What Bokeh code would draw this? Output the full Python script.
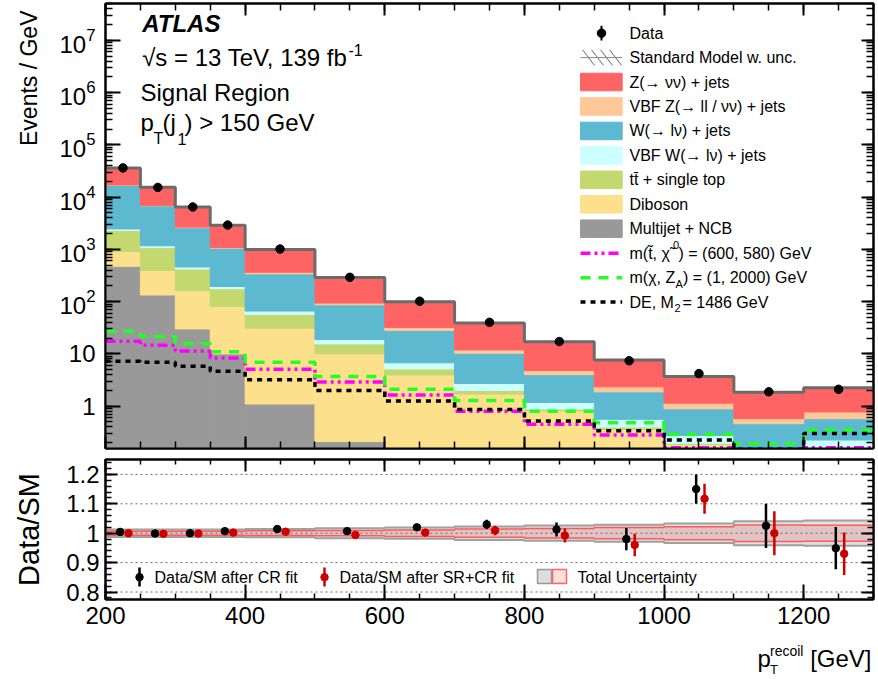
import math
import numpy as np
from bokeh.plotting import figure
from bokeh.models import (Range1d, LinearAxis, LogAxis, Label, Title, SingleIntervalTicker,
                          FixedTicker, LogTicker, LogTickFormatter, CustomJSTickFormatter)
from bokeh.layouts import column
from bokeh.embed import file_html
from bokeh.resources import INLINE

# ---------------- data ----------------
bin_edges = [200, 250, 300, 350, 400, 500, 600, 700, 800, 900, 1000, 1100, 1200, 1300]

multijet = [475, 134, 30, 10, 1.1, 0.21, 0.05, 0.02, 0.01, 0.01, 0.005, 0.005, 0.005]
diboson = [435, 261, 132, 71, 29.9, 9.8, 3.9, 1.68, 0.8, 0.35, 0.18, 0.05, 0.06]
ttbar = [1390, 685, 258, 96, 26, 5.5, 1.2, 0.29, 0.07, 0.04, 0.01, 0.005, 0.01]
vbf_w = [160, 90, 40, 18, 9, 3.3, 1.6, 0.73, 0.3, 0.16, 0.08, 0.05, 0.15]
w_jets = [14240, 5630, 2140, 855, 274, 68, 21.3, 7.6, 2.83, 1.32, 0.615, 0.35, 0.35]
vbf_z = [400, 150, 70, 30, 25, 7, 4, 1.6, 0.8, 0.46, 0.25, 0.12, 0.2]
z_jets = [18900, 8450, 3830, 1820, 635, 196, 68, 27, 12.2, 5.26, 2.56, 1.26, 1.47]

data = [36200, 15350, 6480, 2920, 1015, 292, 102, 40.2, 17.2, 7.4, 4.2, 1.88, 2.1]

sig_stop = [17.5, 14.7, 11.3, 8.3, 5.1, 2.9, 1.63, 0.8, 0.45, 0.28, 0.16, 0.12, 0.16]
sig_zprime = [27, 21.6, 15.8, 11, 6.9, 3.7, 2.1, 1.28, 0.80, 0.48, 0.29, 0.19, 0.35]
sig_de = [7.2, 6.9, 5.8, 4.65, 3.2, 2.0, 1.26, 0.86, 0.52, 0.34, 0.225, 0.15, 0.30]

ratio_cr = [1.0045, 0.999, 1.0, 1.007, 1.014, 1.007, 1.02, 1.03, 1.0125, 0.98, 1.15, 1.025, 0.949]
ratio_cr_err = [0.001, 0.002, 0.003, 0.003, 0.003, 0.006, 0.01, 0.016, 0.024, 0.038, 0.05, 0.075, 0.072]
ratio_srcr = [1.0, 0.998, 0.999, 1.002, 1.005, 0.994, 1.002, 1.009, 0.992, 0.96, 1.117, 1.0, 0.93]
ratio_srcr_err = [0.001, 0.002, 0.003, 0.003, 0.003, 0.006, 0.01, 0.016, 0.024, 0.038, 0.051, 0.075, 0.072]
unc_cr = [0.013, 0.013, 0.013, 0.013, 0.014, 0.017, 0.019, 0.023, 0.026, 0.029, 0.033, 0.041, 0.043]
unc_srcr = [0.007, 0.007, 0.007, 0.007, 0.008, 0.009, 0.011, 0.014, 0.016, 0.019, 0.022, 0.028, 0.027]

process_names = ["Multijet + NCB", "Diboson", "tt\u0304 + single top", "VBF W(\u2192 l\u03bd) + jets",
                 "W(\u2192 l\u03bd) + jets", "VBF Z(\u2192 ll / \u03bd\u03bd) + jets", "Z(\u2192 \u03bd\u03bd) + jets"]
process_colors = ["#999999", "#fde08c", "#c3d96f", "#ccffff", "#5cb9d0", "#ffc896", "#ff6464"]
process_values = [multijet, diboson, ttbar, vbf_w, w_jets, vbf_z, z_jets]

FONT = "Liberation Sans"
W = 878
BL, BR = 105, 5
H1, H2, H3 = 450, 193, 36

# ---------- helpers mapping reference pixel positions to data coords ----------
REF_L, REF_R = 105.0, 873.0
def ux(px):
    return 200 + (px - REF_L) * 1100.0 / (REF_R - REF_L)
def uy(py):
    return 10 ** ((414.7 - py) / 53.43)
def ry(py):
    return 1.0 + (542.7 - py) / 294.0

lefts = np.array(bin_edges[:-1], dtype=float)
rights = np.array(bin_edges[1:], dtype=float)
centers = 0.5 * (lefts + rights)

def step_xy(vals):
    xs, ys = [], []
    for i, v in enumerate(vals):
        xs += [bin_edges[i], bin_edges[i + 1]]
        ys += [v, v]
    return xs, ys

def style_axis(ax, tick_in, minor_in, labels=True, size="24px", standoff=8):
    ax.major_tick_in = tick_in
    ax.major_tick_out = 0
    ax.minor_tick_in = minor_in
    ax.minor_tick_out = 0
    ax.major_tick_line_width = 2
    ax.minor_tick_line_width = 1.5
    ax.axis_line_width = 2
    ax.major_label_text_color = "black"
    ax.major_label_text_font = FONT
    if labels:
        ax.major_label_text_font_size = size
        ax.major_label_standoff = standoff
    else:
        ax.formatter = CustomJSTickFormatter(code="return '';")
        ax.major_label_text_font_size = "1px"
        ax.major_label_standoff = 0

def lab(p, x, y, text, size="24px", style="normal", align="left", baseline="middle"):
    p.add_layout(Label(x=x, y=y, text=text, text_font=FONT, text_font_size=size,
                       text_font_style=style, text_color="black", text_align=align,
                       text_baseline=baseline))

def lab_base(p, mapy, xpx, base_py, text, size_px, style="normal", align="left"):
    # place a text by its baseline (reference pixels), drawn with a middle anchor
    lab(p, ux(xpx), mapy(base_py - 0.35 * size_px), text, size="%gpx" % size_px,
        style=style, align=align, baseline="middle")

# ================= upper panel =================
p1 = figure(width=W, height=H1, y_axis_type="log",
            x_range=Range1d(200, 1300), y_range=Range1d(uy(458), uy(3)),
            output_backend="svg", toolbar_location=None,
            min_border_left=BL, min_border_right=BR, min_border_top=3, min_border_bottom=2)
p1.grid.visible = False
p1.outline_line_color = "black"
p1.outline_line_width = 2

p1.xaxis.ticker = SingleIntervalTicker(interval=200, num_minor_ticks=4)
style_axis(p1.xaxis[0], 12, 7, labels=False)
p1.yaxis.ticker = LogTicker(num_minor_ticks=10)
p1.yaxis.formatter = LogTickFormatter(min_exponent=2)
style_axis(p1.yaxis[0], 15, 7, labels=True, size="24px", standoff=10)

p1.add_layout(Title(text="Events / GeV", align="right", offset=7, standoff=26,
                    vertical_align="top", text_font=FONT, text_font_size="23px",
                    text_font_style="normal", text_color="black"), "left")

top1 = LinearAxis(ticker=SingleIntervalTicker(interval=200, num_minor_ticks=4))
style_axis(top1, 12, 7, labels=False)
p1.add_layout(top1, "above")
right1 = LogAxis(ticker=LogTicker(num_minor_ticks=10))
style_axis(right1, 12, 7, labels=False)
p1.add_layout(right1, "right")

FLOOR = 1e-3
stack = np.cumsum(np.array(process_values, dtype=float), axis=0)
for k in range(len(process_values)):
    bottom = stack[k - 1] if k > 0 else np.full(len(lefts), FLOOR)
    p1.quad(left=lefts, right=rights, bottom=bottom, top=stack[k],
            fill_color=process_colors[k], line_color=process_colors[k], line_width=1)

tx, ty = step_xy(stack[-1])
p1.line(tx, ty, line_color="#6b6b6b", line_width=3)

sx, sy = step_xy(sig_stop)
p1.line(sx, sy, line_color="#ff00ff", line_width=3.5, line_dash="10 4 3 4 3 4")
sx, sy = step_xy(sig_zprime)
p1.line(sx, sy, line_color="#22ff22", line_width=3.5, line_dash="10 8")
sx, sy = step_xy(sig_de)
p1.line(sx, sy, line_color="black", line_width=3.5, line_dash="5 5")

p1.scatter(centers, data, size=8.5, color="black")

# ---- top-left texts (positions are reference baselines) ----
lab_base(p1, uy, 141.7, 32.3, "ATLAS", 24, style="bold italic")
lab_base(p1, uy, 141.7, 66.7, "\u221as = 13 TeV, 139 fb", 24)
lab_base(p1, uy, 348, 56.5, "-1", 16)
lab_base(p1, uy, 140, 102, "Signal Region", 24)
lab_base(p1, uy, 140, 133.3, "p", 24)
lab_base(p1, uy, 153, 146.7, "T", 16)
lab_base(p1, uy, 162, 133.3, "(j", 24)
lab_base(p1, uy, 177, 146.7, "1", 16)
lab_base(p1, uy, 184, 133.3, ") > 150 GeV", 24)

# ---- legend ----
rows = [33.3 + 25 * i for i in range(12)]
GX0, GX1, TX = 580, 621.7, 629

p1.segment(x0=[ux(601)], y0=[uy(rows[0] + 7.5)], x1=[ux(601)], y1=[uy(rows[0] - 7.5)],
           line_color="black", line_width=2)
p1.scatter([ux(601)], [uy(rows[0])], size=8.5, color="black")
lab(p1, ux(TX), uy(rows[0]), "Data", size="16px")

hx0 = [ux(GX0 + 2 + 9 * j) for j in range(4)]
hx1 = [ux(GX0 + 2 + 9 * j + 12) for j in range(4)]
p1.segment(x0=hx0, y0=[uy(rows[1] - 8)] * 4, x1=hx1, y1=[uy(rows[1] + 8)] * 4,
           line_color="#666666", line_width=1)
p1.segment(x0=[ux(GX0)], y0=[uy(rows[1])], x1=[ux(GX1)], y1=[uy(rows[1])],
           line_color="#888888", line_width=1)
lab(p1, ux(TX), uy(rows[1]), "Standard Model w. unc.", size="16px")

legend_order = [6, 5, 4, 3, 2, 1, 0]
for i, k in enumerate(legend_order):
    r = rows[2 + i]
    p1.quad(left=[ux(GX0)], right=[ux(GX1)], bottom=[uy(r + 9)], top=[uy(r - 9)],
            fill_color=process_colors[k], line_color=process_colors[k], line_width=1)
    lab(p1, ux(TX), uy(r), process_names[k], size="16px")

p1.line([ux(GX0), ux(GX1)], [uy(rows[9])] * 2, line_color="#ff00ff", line_width=3.5,
        line_dash="10 4 3 4 3 4")
lab(p1, ux(TX), uy(rows[9]), "m(t\u0303, \u03c7\u0303", size="16px")
lab(p1, ux(672.5), uy(rows[9] - 8), "0", size="11px")
lab(p1, ux(678), uy(rows[9]), ") = (600, 580) GeV", size="16px")

p1.line([ux(GX0), ux(GX1)], [uy(rows[10])] * 2, line_color="#22ff22", line_width=3.5,
        line_dash="10 8")
lab(p1, ux(TX), uy(rows[10]), "m(\u03c7, Z", size="16px")
lab(p1, ux(675), uy(rows[10] + 6), "A", size="11px")
lab(p1, ux(682.5), uy(rows[10]), ") = (1, 2000) GeV", size="16px")

p1.line([ux(GX0), ux(GX1)], [uy(rows[11])] * 2, line_color="black", line_width=3.5,
        line_dash="5 5")
lab(p1, ux(TX), uy(rows[11]), "DE, M", size="16px")
lab(p1, ux(674), uy(rows[11] + 6), "2", size="11px")
lab(p1, ux(682), uy(rows[11]), " = 1486 GeV", size="16px")

# ================= ratio panel =================
p2 = figure(width=W, height=H2, x_range=p1.x_range, y_range=Range1d(ry(609), ry(469)),
            output_backend="svg", toolbar_location=None,
            min_border_left=BL, min_border_right=BR, min_border_top=9, min_border_bottom=H2 - 149)
p2.grid.visible = False
p2.outline_line_color = "black"
p2.outline_line_width = 2

p2.xaxis.ticker = SingleIntervalTicker(interval=200, num_minor_ticks=4)
style_axis(p2.xaxis[0], 15, 6, labels=True, size="24px", standoff=7)
major_r = [0.8, 0.9, 1.0, 1.1, 1.2]
minor_r = [round(v, 2) for v in np.arange(0.78, 1.26, 0.02)]
p2.yaxis.ticker = FixedTicker(ticks=major_r, minor_ticks=minor_r)
p2.yaxis.major_label_overrides = {0.8: "0.8", 0.9: "0.9", 1.0: "1", 1.1: "1.1", 1.2: "1.2"}
style_axis(p2.yaxis[0], 12, 6, labels=True, size="24px", standoff=6)
ya = p2.yaxis[0]
ya.axis_label = "Data/SM"
ya.axis_label_text_font = FONT
ya.axis_label_text_font_size = "29px"
ya.axis_label_text_font_style = "normal"
ya.axis_label_text_color = "black"
ya.axis_label_standoff = 18

top2 = LinearAxis(ticker=SingleIntervalTicker(interval=200, num_minor_ticks=4))
style_axis(top2, 12, 5, labels=False)
p2.add_layout(top2, "above")
right2 = LinearAxis(ticker=FixedTicker(ticks=major_r, minor_ticks=minor_r))
style_axis(right2, 12, 6, labels=False)
p2.add_layout(right2, "right")

ucr = np.array(unc_cr)
usr = np.array(unc_srcr)
p2.quad(left=lefts, right=rights, bottom=1 - ucr, top=1 + ucr,
        fill_color="#d2d2d2", fill_alpha=0.7, line_color=None)
for sgn in (1, -1):
    gx, gy = step_xy(1 + sgn * ucr)
    p2.line(gx, gy, line_color="#a0a0a0", line_width=2)
p2.quad(left=lefts, right=rights, bottom=1 - usr, top=1 + usr,
        fill_color="#ff0000", fill_alpha=0.12, line_color=None)
for sgn in (1, -1):
    gx, gy = step_xy(1 + sgn * usr)
    p2.line(gx, gy, line_color="#ff5a5a", line_width=1.5)

for yv in major_r:
    p2.line([200, 1300], [yv, yv], line_color="#6a6a6a", line_width=1, line_dash="2 3")

rcr = np.array(ratio_cr)
ecr = np.array(ratio_cr_err)
rsr = np.array(ratio_srcr)
esr = np.array(ratio_srcr_err)
xb = centers - 4
xr = centers + 8
p2.segment(x0=xb, y0=rcr - ecr, x1=xb, y1=rcr + ecr, line_color="black", line_width=2.5)
p2.scatter(xb, rcr, size=7.5, color="black")
p2.segment(x0=xr, y0=rsr - esr, x1=xr, y1=rsr + esr, line_color="#cc0000", line_width=2.5)
p2.scatter(xr, rsr, size=7.5, color="#cc0000")

ly = ry(586.7)
p2.segment(x0=[ux(139)], y0=[ry(596)], x1=[ux(139)], y1=[ry(577)], line_color="black", line_width=2.5)
p2.scatter([ux(139)], [ly], size=7.5, color="black")
lab(p2, ux(154), ly, "Data/SM after CR fit", size="16px")
p2.segment(x0=[ux(324)], y0=[ry(596)], x1=[ux(324)], y1=[ry(577)], line_color="#cc0000", line_width=2.5)
p2.scatter([ux(324)], [ly], size=7.5, color="#cc0000")
lab(p2, ux(339), ly, "Data/SM after SR+CR fit", size="16px")
p2.quad(left=[ux(537)], right=[ux(551)], bottom=[ry(593)], top=[ry(579)],
        fill_color="#dddddd", line_color="#999999", line_width=1.5)
p2.quad(left=[ux(552)], right=[ux(566)], bottom=[ry(593)], top=[ry(579)],
        fill_color="#ffdede", line_color="#ff6666", line_width=1.5)
lab(p2, ux(577), ly, "Total Uncertainty", size="16px")

# ================= strip below: x axis title =================
p3 = figure(width=W, height=H3, x_range=p1.x_range, y_range=Range1d(0, H3),
            output_backend="svg", toolbar_location=None,
            x_axis_location=None, y_axis_location=None,
            min_border_left=BL, min_border_right=BR, min_border_top=0, min_border_bottom=0)
p3.grid.visible = False
p3.outline_line_color = None

# y inside the strip, measured from its top edge downwards
def by(dy):
    return H3 - dy

lab_base(p3, by, 757, 23, "p", 24)
lab_base(p3, by, 769.5, 12, "recoil", 14)
lab_base(p3, by, 769.5, 31, "T", 13)
lab_base(p3, by, 871, 23, "[GeV]", 24, align="right")

layout = column(p1, p2, p3)
open("out.html", "w").write(file_html(layout, INLINE))
